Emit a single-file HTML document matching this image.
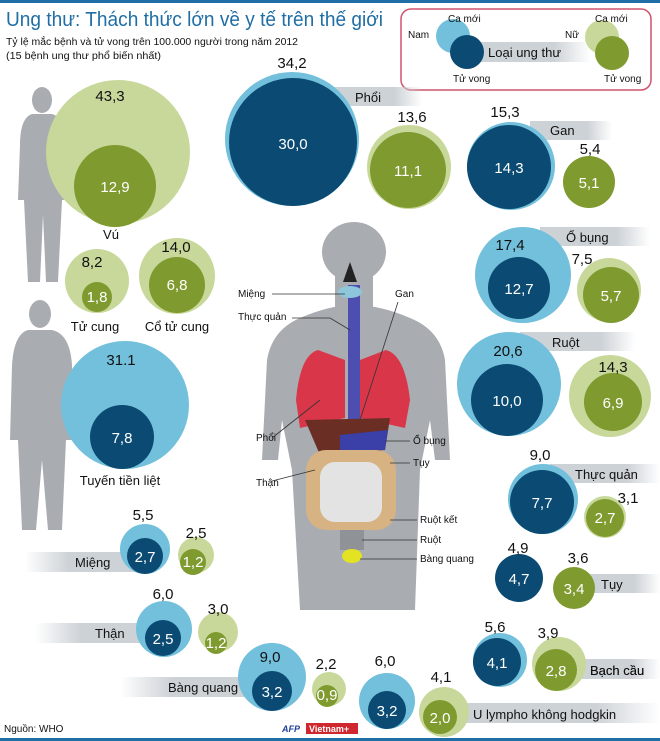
<!DOCTYPE html>
<html><head><meta charset="utf-8"><style>
body{margin:0;background:#fff}
svg{display:block;font-family:"Liberation Sans","Noto Sans CJK SC",sans-serif}
.w{fill:#fff;font-size:15px;text-anchor:middle}
.n{fill:#111;font-size:15px;text-anchor:middle}
.l{fill:#111;font-size:13px}
.s{fill:#111;font-size:10px}
</style></head><body>
<svg width="660" height="741" viewBox="0 0 660 741">
<defs>
<linearGradient id="gr" x1="0" x2="1"><stop offset="0" stop-color="#cdd2d7"/><stop offset="0.7" stop-color="#cdd2d7"/><stop offset="1" stop-color="#cdd2d7" stop-opacity="0"/></linearGradient>
<linearGradient id="gl" x1="1" x2="0"><stop offset="0" stop-color="#cdd2d7"/><stop offset="0.6" stop-color="#cdd2d7"/><stop offset="1" stop-color="#cdd2d7" stop-opacity="0"/></linearGradient>
</defs>
<rect width="660" height="3" fill="#1f6ea5"/>
<rect y="738" width="660" height="3" fill="#1f6ea5"/>
<text x="6" y="26" fill="#1f6ea5" font-size="20" textLength="377" lengthAdjust="spacingAndGlyphs">Ung thư: Thách thức lớn về y tế trên thế giới</text>
<text x="6" y="45" class="s" font-size="10" textLength="292" lengthAdjust="spacingAndGlyphs">Tỷ lệ mắc bệnh và tử vong trên 100.000 người trong năm 2012</text>
<text x="6" y="59" class="s" font-size="10" textLength="155" lengthAdjust="spacingAndGlyphs">(15 bệnh ung thư phổ biến nhất)</text>
<!-- legend -->
<rect x="401" y="9" width="250" height="81" rx="10" fill="#fff" stroke="#d0546e" stroke-width="1.5"/>
<rect x="470" y="42" width="120" height="20" fill="url(#gr)"/>
<circle cx="453" cy="36" r="17" fill="#72c0dc"/><circle cx="467" cy="52" r="17" fill="#0b4a72"/>
<text x="488" y="57" class="l">Loại ung thư</text>
<text x="448" y="22" class="s">Ca mới</text><text x="408" y="38" class="s">Nam</text><text x="453" y="82" class="s">Tử vong</text>
<circle cx="602" cy="37" r="17" fill="#c8d89a"/><circle cx="612" cy="53" r="17" fill="#7f9a2f"/>
<text x="595" y="22" class="s">Ca mới</text><text x="565" y="38" class="s">Nữ</text><text x="604" y="82" class="s">Tử vong</text>
<!-- body central -->
<g fill="#a9adb2">
<ellipse cx="354" cy="252" rx="32" ry="30"/>
<rect x="335" y="270" width="38" height="40"/>
<path d="M300 318 Q330 305 354 305 Q380 305 410 318 Q440 330 445 360 L450 460 L435 460 L430 420 L420 470 L415 610 L300 610 L292 470 L282 420 L278 460 L262 460 L267 360 Q272 330 300 318Z"/>
</g>
<rect x="348" y="285" width="12" height="135" fill="#4c4fb0"/>
<ellipse cx="350" cy="292" rx="12" ry="6" fill="#8ec6dc"/>
<path d="M350 262 L343 282 L357 282Z" fill="#222"/>
<path d="M318 350 Q300 355 296 400 L300 428 L345 418 L345 360Z" fill="#d9364a"/>
<path d="M386 350 Q405 355 410 400 L405 428 L360 418 L360 360Z" fill="#d9364a"/>
<path d="M305 420 L390 418 L385 450 L320 455Z" fill="#6a2e24"/>
<path d="M340 435 L388 430 L385 450 L340 450Z" fill="#3b3fa8"/>
<rect x="306" y="450" width="90" height="80" rx="20" fill="#d7b283"/>
<rect x="320" y="462" width="62" height="60" rx="15" fill="#e3e3e3"/>
<rect x="340" y="530" width="24" height="20" fill="#8f9397"/>
<ellipse cx="352" cy="556" rx="10" ry="7" fill="#e3e324"/>
<g class="s" font-size="10"><text x="238" y="297">Miệng</text><text x="238" y="320">Thực quản</text><text x="395" y="297">Gan</text>
<text x="256" y="441">Phổi</text><text x="256" y="486">Thận</text><text x="413" y="444">Ổ bụng</text><text x="413" y="466">Tụy</text>
<text x="420" y="523">Ruột kết</text><text x="420" y="543">Ruột</text><text x="420" y="562">Bàng quang</text></g>
<g stroke="#333" fill="none" stroke-width="0.8">
<path d="M272 294 H345"/><path d="M292 318 H330 L350 330"/><path d="M398 302 L360 420"/><path d="M272 438 L320 400"/><path d="M272 481 L315 470"/>
<path d="M410 441 H385"/><path d="M410 463 H390"/><path d="M417 520 H390"/><path d="M417 540 H362"/><path d="M417 559 H360"/></g>
<!-- female -->
<g fill="#a9adb2"><ellipse cx="42" cy="100" rx="10" ry="13"/><path d="M32 114 H52 Q66 118 66 145 L68 200 L62 200 L58 282 L46 282 L43 215 L40 282 L28 282 L24 200 L18 200 L20 145 Q20 118 32 114Z"/></g>
<!-- male -->
<g fill="#a9adb2"><ellipse cx="40" cy="314" rx="11" ry="14"/><path d="M28 330 H52 Q70 334 72 365 L74 440 L66 440 L62 530 L48 530 L42 460 L36 530 L22 530 L18 440 L10 440 L12 365 Q14 334 28 330Z"/></g>
<!-- label bars -->
<rect x="330" y="87" width="92" height="19" fill="url(#gr)"/><text x="355" y="102" class="l">Phổi</text>
<rect x="530" y="121" width="82" height="19" fill="url(#gr)"/><text x="550" y="135" class="l">Gan</text>
<rect x="540" y="227" width="110" height="19" fill="url(#gr)"/><text x="566" y="242" class="l">Ổ bụng</text>
<rect x="520" y="332" width="115" height="19" fill="url(#gr)"/><text x="552" y="347" class="l">Ruột</text>
<rect x="550" y="464" width="110" height="19" fill="url(#gr)"/><text x="575" y="479" class="l">Thực quản</text>
<rect x="575" y="574" width="85" height="19" fill="url(#gr)"/><text x="601" y="589" class="l">Tụy</text>
<rect x="565" y="659" width="95" height="20" fill="url(#gr)"/><text x="590" y="675" class="l">Bạch cầu</text>
<rect x="445" y="703" width="215" height="20" fill="url(#gr)"/><text x="473" y="719" class="l">U lympho không hodgkin</text>
<rect x="120" y="677" width="130" height="20" fill="url(#gl)"/><text x="168" y="692" class="l">Bàng quang</text>
<rect x="35" y="623" width="115" height="20" fill="url(#gl)"/><text x="95" y="638" class="l">Thận</text>
<rect x="25" y="552" width="110" height="20" fill="url(#gl)"/><text x="75" y="567" class="l">Miệng</text>
<!-- circles -->
<g>
<circle cx="118" cy="152" r="72" fill="#c8d89a"/><circle cx="115" cy="186" r="41" fill="#7f9a2f"/><text x="115" y="192" class="w">12,9</text><text x="110" y="101" class="n">43,3</text><text x="111" y="239" class="l" text-anchor="middle">Vú</text>
<circle cx="97" cy="281" r="32" fill="#c8d89a"/><circle cx="97" cy="297" r="15" fill="#7f9a2f"/><text x="97" y="302" class="w" font-size="12">1,8</text><text x="92" y="267" class="n">8,2</text><text x="95" y="331" class="l" text-anchor="middle">Tử cung</text>
<circle cx="177" cy="276" r="38" fill="#c8d89a"/><circle cx="177" cy="285" r="28" fill="#7f9a2f"/><text x="177" y="290" class="w">6,8</text><text x="176" y="252" class="n">14,0</text><text x="177" y="331" class="l" text-anchor="middle">Cổ tử cung</text>
<circle cx="125" cy="405" r="64" fill="#72c0dc"/><circle cx="122" cy="437" r="32" fill="#0b4a72"/><text x="122" y="443" class="w">7,8</text><text x="121" y="365" class="n">31.1</text><text x="120" y="485" class="l" text-anchor="middle">Tuyến tiền liệt</text>
<circle cx="292" cy="139" r="67" fill="#72c0dc"/><circle cx="293" cy="142" r="64" fill="#0b4a72"/><text x="293" y="149" class="w" font-size="19">30,0</text><text x="292" y="68" class="n">34,2</text>
<circle cx="409" cy="167" r="42" fill="#c8d89a"/><circle cx="408" cy="170" r="38" fill="#7f9a2f"/><text x="408" y="176" class="w">11,1</text><text x="412" y="122" class="n">13,6</text>
<circle cx="511" cy="166" r="44" fill="#72c0dc"/><circle cx="509" cy="167" r="42" fill="#0b4a72"/><text x="509" y="173" class="w">14,3</text><text x="505" y="117" class="n">15,3</text>
<circle cx="589" cy="182" r="26" fill="#7f9a2f"/><text x="589" y="188" class="w">5,1</text><text x="590" y="154" class="n">5,4</text>
<circle cx="523" cy="275" r="48" fill="#72c0dc"/><circle cx="519" cy="288" r="31" fill="#0b4a72"/><text x="519" y="294" class="w">12,7</text><text x="510" y="250" class="n">17,4</text>
<circle cx="609" cy="290" r="32" fill="#c8d89a"/><circle cx="611" cy="295" r="28" fill="#7f9a2f"/><text x="611" y="301" class="w">5,7</text><text x="582" y="264" class="n">7,5</text>
<circle cx="509" cy="384" r="52" fill="#72c0dc"/><circle cx="507" cy="400" r="36" fill="#0b4a72"/><text x="507" y="406" class="w">10,0</text><text x="508" y="356" class="n">20,6</text>
<circle cx="610" cy="396" r="41" fill="#c8d89a"/><circle cx="613" cy="402" r="29" fill="#7f9a2f"/><text x="613" y="408" class="w">6,9</text><text x="613" y="372" class="n">14,3</text>
<circle cx="543" cy="499" r="35" fill="#72c0dc"/><circle cx="542" cy="502" r="32" fill="#0b4a72"/><text x="542" y="508" class="w">7,7</text><text x="540" y="460" class="n">9,0</text>
<circle cx="605" cy="517" r="21" fill="#c8d89a"/><circle cx="605" cy="518" r="19" fill="#7f9a2f"/><text x="605" y="523" class="w" font-size="14">2,7</text><text x="628" y="503" class="n">3,1</text>
<circle cx="519" cy="578" r="24" fill="#0b4a72"/><text x="519" y="584" class="w">4,7</text><text x="518" y="553" class="n">4,9</text>
<circle cx="574" cy="588" r="21" fill="#7f9a2f"/><text x="574" y="594" class="w">3,4</text><text x="578" y="563" class="n">3,6</text>
<circle cx="500" cy="660" r="27" fill="#72c0dc"/><circle cx="497" cy="662" r="24" fill="#0b4a72"/><text x="497" y="668" class="w">4,1</text><text x="495" y="632" class="n">5,6</text>
<circle cx="559" cy="664" r="27" fill="#c8d89a"/><circle cx="556" cy="670" r="21" fill="#7f9a2f"/><text x="556" y="676" class="w">2,8</text><text x="548" y="638" class="n">3,9</text>
<circle cx="387" cy="701" r="28" fill="#72c0dc"/><circle cx="387" cy="710" r="19" fill="#0b4a72"/><text x="387" y="716" class="w">3,2</text><text x="385" y="666" class="n">6,0</text>
<circle cx="444" cy="712" r="25" fill="#c8d89a"/><circle cx="440" cy="717" r="17" fill="#7f9a2f"/><text x="440" y="723" class="w">2,0</text><text x="441" y="682" class="n">4,1</text>
<circle cx="272" cy="677" r="34" fill="#72c0dc"/><circle cx="272" cy="691" r="20" fill="#0b4a72"/><text x="272" y="697" class="w">3,2</text><text x="270" y="662" class="n">9,0</text>
<circle cx="329" cy="689" r="17" fill="#c8d89a"/><circle cx="327" cy="696" r="11" fill="#7f9a2f"/><text x="327" y="700" class="w" font-size="11">0,9</text><text x="326" y="669" class="n">2,2</text>
<circle cx="164" cy="629" r="28" fill="#72c0dc"/><circle cx="163" cy="638" r="18" fill="#0b4a72"/><text x="163" y="644" class="w">2,5</text><text x="163" y="599" class="n">6,0</text>
<circle cx="218" cy="632" r="20" fill="#c8d89a"/><circle cx="216" cy="643" r="11" fill="#7f9a2f"/><text x="216" y="648" class="w" font-size="12">1,2</text><text x="218" y="614" class="n">3,0</text>
<circle cx="145" cy="549" r="25" fill="#72c0dc"/><circle cx="145" cy="556" r="18" fill="#0b4a72"/><text x="145" y="562" class="w">2,7</text><text x="143" y="520" class="n">5,5</text>
<circle cx="196" cy="555" r="18" fill="#c8d89a"/><circle cx="193" cy="562" r="13" fill="#7f9a2f"/><text x="193" y="567" class="w" font-size="12">1,2</text><text x="196" y="538" class="n">2,5</text>
</g>
<text x="590" y="675" class="l">Bạch cầu</text>
<text x="4" y="732" class="s" font-size="7">Nguồn: WHO</text>
<text x="282" y="732" fill="#1f3f9a" font-size="9" font-weight="bold" font-style="italic">AFP</text>
<rect x="306" y="723" width="52" height="11" fill="#d0262d"/><text x="309" y="732" fill="#fff" font-size="9" font-weight="bold">Vietnam+</text>
</svg>
</body></html>
